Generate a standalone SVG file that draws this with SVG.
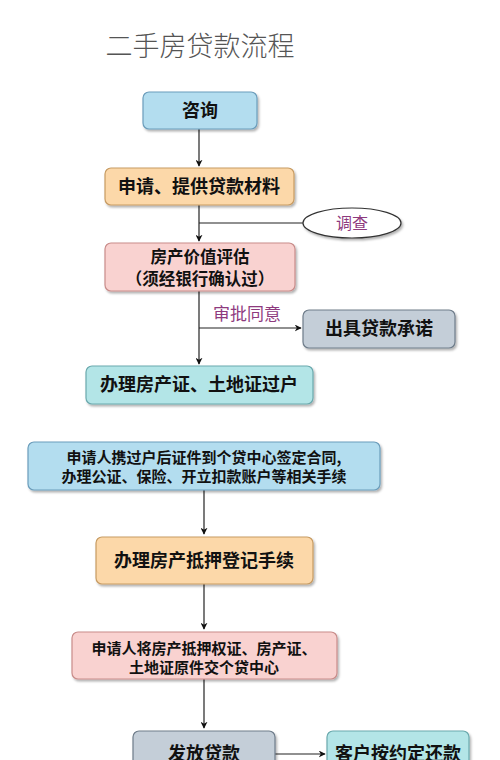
<svg xmlns="http://www.w3.org/2000/svg" width="500" height="760" viewBox="0 0 500 760">
<defs>
<filter id="sh" x="-10%" y="-10%" width="125%" height="140%">
<feDropShadow dx="1.5" dy="2" stdDeviation="1.2" flood-color="#000" flood-opacity="0.3"/>
</filter>
<marker id="ar" viewBox="0 0 10 10" refX="9" refY="5" markerWidth="7" markerHeight="7" orient="auto" markerUnits="userSpaceOnUse">
<path d="M0,0 L10,5 L0,10 L3,5 Z" fill="#111"/>
</marker>
</defs>
<style>
text{font-family:"Noto Sans CJK SC","Noto Sans",sans-serif;text-anchor:middle;}
.t{font-weight:bold;fill:#111;font-size:18px;}
.m{font-weight:bold;fill:#111;font-size:16.5px;}
.s{font-weight:bold;fill:#111;font-size:15px;}
.box{stroke-width:1.2;filter:url(#sh);}
.blue{fill:#b3ddef;stroke:#6b9dbb;}
.orange{fill:#fcd8a9;stroke:#c79b62;}
.pink{fill:#f9d2d0;stroke:#c98c8a;}
.gray{fill:#c4ced8;stroke:#6e7c8a;}
.teal{fill:#b3e5e7;stroke:#6aa9ad;}
.c{stroke:#222;stroke-width:1.2;fill:none;}
.lbl{fill:#8e3a7e;}
</style>
<rect width="500" height="760" fill="#fff"/>
<text x="200" y="56" style="font-size:27px;fill:#555;font-weight:300;">二手房贷款流程</text>

<g id="connectors">
<path class="c" d="M199,129 V166" marker-end="url(#ar)"/>
<path class="c" d="M199,205 V241" marker-end="url(#ar)"/>
<path class="c" d="M199,223 H303"/>
<path class="c" d="M199,291 V364" marker-end="url(#ar)"/>
<path class="c" d="M199,328 H301" marker-end="url(#ar)"/>
<text class="lbl" x="247" y="320" style="font-size:17px">审批同意</text>
<path class="c" d="M204,490 V534" marker-end="url(#ar)"/>
<path class="c" d="M204,584 V629" marker-end="url(#ar)"/>
<path class="c" d="M204,679 V728" marker-end="url(#ar)"/>
<path class="c" d="M275,754 H325" marker-end="url(#ar)"/>
</g>

<g id="n1"><rect class="box blue" x="143" y="92" width="114" height="37" rx="6"/><text class="t" x="200" y="117">咨询</text></g>
<g id="n2"><rect class="box orange" x="105" y="168" width="189" height="37" rx="6"/><text class="t" x="199" y="193">申请、提供贷款材料</text></g>
<g id="n3"><ellipse cx="352" cy="223" rx="49" ry="15" fill="#fff" stroke="#333" stroke-width="1.2" style="filter:url(#sh)"/><text class="lbl" x="352" y="229" style="font-size:16px">调查</text></g>
<g id="n4"><rect class="box pink" x="105" y="243" width="190" height="48" rx="6"/><text class="m" x="200" y="262.5">房产价值评估</text><text class="m" x="200" y="285">（须经银行确认过）</text></g>
<g id="n5"><rect class="box gray" x="303" y="310" width="152" height="38" rx="6"/><text class="t" x="379" y="335">出具贷款承诺</text></g>
<g id="n6"><rect class="box teal" x="86" y="366" width="227" height="38" rx="6"/><text class="t" x="199" y="391">办理房产证、土地证过户</text></g>
<g id="n7"><rect class="box blue" x="28" y="442" width="352" height="48" rx="6"/><text class="s" x="204" y="463">申请人携过户后证件到个贷中心签定合同,</text><text class="s" x="204" y="482">办理公证、保险、开立扣款账户等相关手续</text></g>
<g id="n8"><rect class="box orange" x="96" y="537" width="217" height="47" rx="6"/><text class="t" x="204" y="567">办理房产抵押登记手续</text></g>
<g id="n9"><rect class="box pink" x="72" y="632" width="265" height="47" rx="6"/><text class="s" x="204" y="654">申请人将房产抵押权证、房产证、</text><text class="s" x="204" y="673">土地证原件交个贷中心</text></g>
<g id="n10"><rect class="box gray" x="133" y="731" width="142" height="44" rx="6"/><text class="t" x="204" y="760">发放贷款</text></g>
<g id="n11"><rect class="box teal" x="327" y="731" width="142" height="44" rx="6"/><text class="t" x="398" y="760">客户按约定还款</text></g>
</svg>
